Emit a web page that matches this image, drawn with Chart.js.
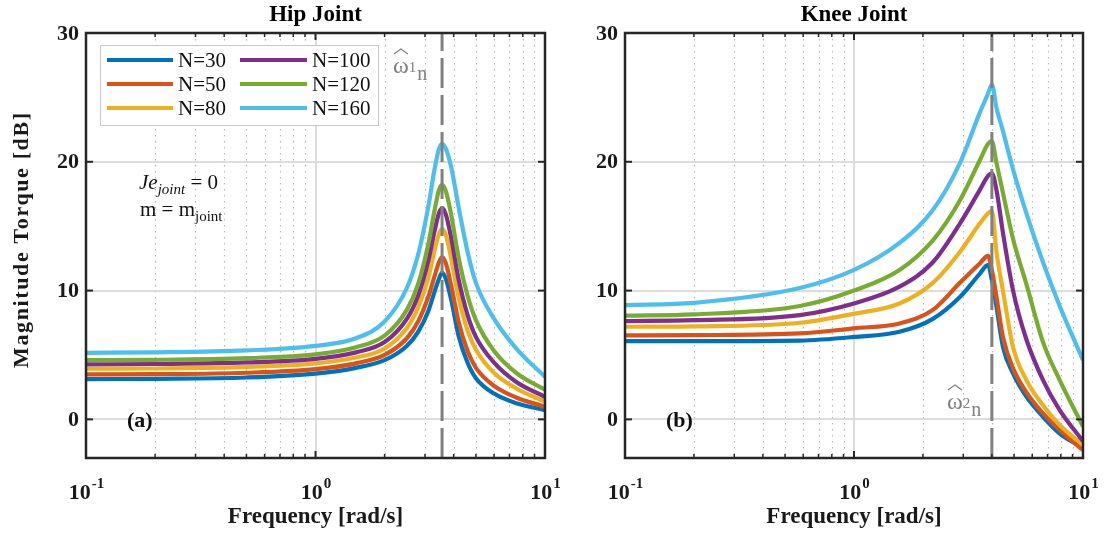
<!DOCTYPE html>
<html><head><meta charset="utf-8">
<script src="https://cdn.jsdelivr.net/npm/chart.js@4.4.0/dist/chart.umd.min.js"></script>
<style>
html,body{margin:0;padding:0;background:#fff;overflow:hidden}
#wrap{position:relative;width:1106px;height:536px;background:#fff}
canvas{position:absolute;top:0}
</style></head><body>
<div id="wrap">
<canvas id="hip" width="585" height="536" style="left:0"></canvas>
<canvas id="knee" width="553" height="536" style="left:553px"></canvas>
</div>
<script>
// ---------- data ----------
const seriesLabels = ['N=30', 'N=50', 'N=80', 'N=100', 'N=120', 'N=160'];
const seriesColors = ['#0072BD', '#D95319', '#EDB120', '#7E2F8E', '#77AC30', '#4DBEEE'];

const hipFreq = [0.1, 0.2, 0.5, 1, 1.5, 2, 2.5, 2.8, 3.1, 3.3, 3.45, 3.56, 3.7, 3.9, 4.2, 4.6, 5, 6, 7.5, 10];
const hipN30  = [3.13, 3.15, 3.25, 3.55, 4.0, 4.6, 5.7, 6.8, 8.4, 9.9, 10.9, 11.4, 10.9, 9.3, 6.5, 4.4, 3.2, 2.0, 1.25, 0.72];
const hipN50  = [3.49, 3.51, 3.62, 3.9, 4.35, 5.0, 6.3, 7.6, 9.5, 11.1, 12.2, 12.6, 12.1, 10.4, 7.6, 5.3, 4.0, 2.6, 1.7, 0.98];
const hipN80  = [3.93, 3.95, 4.07, 4.35, 4.8, 5.5, 7.1, 8.7, 11.0, 13.1, 14.4, 14.8, 14.3, 12.5, 9.5, 6.9, 5.4, 3.6, 2.4, 1.37];
const hipN100 = [4.27, 4.3, 4.42, 4.7, 5.2, 6.0, 7.8, 9.6, 12.3, 14.6, 16.0, 16.4, 15.9, 14.1, 10.9, 8.1, 6.4, 4.4, 2.9, 1.75];
const hipN120 = [4.6, 4.62, 4.75, 5.05, 5.6, 6.5, 8.5, 10.5, 13.6, 16.2, 17.8, 18.2, 17.7, 15.9, 12.6, 9.6, 7.7, 5.3, 3.6, 2.3];
const hipN160 = [5.17, 5.2, 5.35, 5.7, 6.3, 7.6, 10.2, 12.8, 16.5, 19.4, 21.0, 21.4, 21.0, 19.6, 16.5, 13.0, 10.6, 7.8, 5.5, 3.3];

const kneeFreq = [0.1, 0.2, 0.58, 1.0, 1.58, 2.21, 2.9, 3.54, 3.85, 4.0, 4.19, 4.47, 4.95, 5.66, 6.69, 7.91, 10];
const kneeN30  = [6.08, 6.08, 6.12, 6.4, 6.8, 7.8, 9.5, 11.3, 12.0, 10.8, 8.75, 5.64, 3.57, 1.76, 0.2, -1.1, -2.2];
const kneeN50  = [6.52, 6.54, 6.67, 7.07, 7.45, 8.5, 10.6, 12.1, 12.7, 11.6, 9.5, 6.4, 3.96, 2.1, 0.46, -0.83, -2.4];
const kneeN80  = [7.19, 7.22, 7.5, 8.2, 9.0, 10.6, 13.0, 15.2, 16.0, 16.2, 13.0, 10.0, 5.6, 3.05, 1.1, -0.44, -2.0];
const kneeN100 = [7.63, 7.7, 8.1, 9.0, 10.3, 12.2, 15.2, 17.8, 18.9, 19.1, 17.8, 14.5, 10.0, 6.2, 3.05, 0.72, -1.7];
const kneeN120 = [8.05, 8.15, 8.8, 10.0, 11.6, 13.9, 17.0, 20.1, 21.4, 21.6, 19.9, 17.6, 14.0, 10.5, 6.0, 3.05, -0.55];
const kneeN160 = [8.87, 9.05, 10.2, 11.6, 13.7, 16.25, 19.9, 23.8, 25.3, 26.0, 24.2, 22.4, 19.4, 16.0, 12.2, 8.8, 4.6];

const hipNatFreq = 3.56;
const kneeNatFreq = 4.0;

const yTicks = [0, 10, 20, 30];
const xMajorTicks = [0.1, 1, 10];
const xMajorExp = ['-1', '0', '1'];
const xMinorTicks = [0.2, 0.3, 0.4, 0.5, 0.6, 0.7, 0.8, 0.9, 2, 3, 4, 5, 6, 7, 8, 9];

const hipTitle = 'Hip Joint';
const kneeTitle = 'Knee Joint';
const xTitle = 'Frequency [rad/s]';
const yTitle = 'Magnitude Torque [dB]';

// ---------- helpers ----------
const SERIF = '"Liberation Serif", "Times New Roman", serif';

function makeDatasets(freq, arrays, nat) {
  const ds = arrays.map((vals, i) => ({
    label: seriesLabels[i],
    data: freq.map((f, k) => ({ x: f, y: vals[k] })),
    borderColor: seriesColors[i],
    backgroundColor: seriesColors[i],
    borderWidth: 4.2,
    pointRadius: 0,
    fill: false,
    cubicInterpolationMode: 'monotone',
    order: 10 - i
  }));
  ds.push({
    label: 'nat',
    data: [{ x: nat, y: -3 }, { x: nat, y: 30 }],
    borderColor: '#808080',
    borderWidth: 3,
    borderDash: [30, 7],
    pointRadius: 0,
    fill: false,
    order: 0
  });
  return ds;
}

function line(ctx, x1, y1, x2, y2) {
  ctx.beginPath(); ctx.moveTo(x1, y1); ctx.lineTo(x2, y2); ctx.stroke();
}

function panelPlugin(p) {
  return {
    id: 'panel_' + p.key,
    beforeDatasetsDraw(chart) {
      const { ctx, chartArea: a, scales: { x, y } } = chart;
      ctx.save();
      ctx.strokeStyle = '#b5b5b5'; ctx.lineWidth = 1.2; ctx.setLineDash([1.5, 4.5]);
      for (const v of xMinorTicks) {
        const px = Math.round(x.getPixelForValue(v)) + 0.5;
        line(ctx, px, a.top, px, a.bottom);
      }
      ctx.setLineDash([]);
      ctx.strokeStyle = '#dcdcdc'; ctx.lineWidth = 2;
      for (const v of xMajorTicks) {
        const px = Math.round(x.getPixelForValue(v));
        line(ctx, px, a.top, px, a.bottom);
      }
      for (const v of yTicks) {
        const py = Math.round(y.getPixelForValue(v));
        line(ctx, a.left, py, a.right, py);
      }
      ctx.restore();
    },
    afterDraw(chart) {
      const { ctx, chartArea: a, scales: { x, y } } = chart;
      ctx.save();
      ctx.strokeStyle = '#262626'; ctx.lineWidth = 1.5;
      for (const v of xMinorTicks) {
        const px = x.getPixelForValue(v);
        line(ctx, px, a.top, px, a.top + 4);
        line(ctx, px, a.bottom, px, a.bottom - 4);
      }
      ctx.lineWidth = 2;
      for (const v of xMajorTicks) {
        const px = x.getPixelForValue(v);
        line(ctx, px, a.top, px, a.top + 7);
        line(ctx, px, a.bottom, px, a.bottom - 7);
      }
      for (const v of yTicks) {
        const py = y.getPixelForValue(v);
        line(ctx, a.left, py, a.left + 7, py);
        line(ctx, a.right, py, a.right - 7, py);
      }
      ctx.strokeStyle = '#262626'; ctx.lineWidth = 2.5;
      ctx.strokeRect(a.left, a.top, a.right - a.left, a.bottom - a.top);

      ctx.fillStyle = '#1a1a1a';
      ctx.font = 'bold 22px ' + SERIF; ctx.textAlign = 'right'; ctx.textBaseline = 'middle';
      for (const v of yTicks) ctx.fillText(String(v), a.left - 7, y.getPixelForValue(v) + 1);
      xMajorTicks.forEach((v, i) => {
        const px = x.getPixelForValue(v);
        ctx.font = 'bold 22px ' + SERIF;
        const w1 = ctx.measureText('10').width;
        ctx.font = 'bold 15px ' + SERIF;
        const w2 = ctx.measureText(xMajorExp[i]).width;
        const sx = px - (w1 + w2) / 2;
        ctx.textAlign = 'left'; ctx.textBaseline = 'alphabetic';
        ctx.font = 'bold 22px ' + SERIF; ctx.fillText('10', sx, 499);
        ctx.font = 'bold 15px ' + SERIF; ctx.fillText(xMajorExp[i], sx + w1 + 1, 488);
      });
      ctx.font = 'bold 23px ' + SERIF; ctx.textAlign = 'center'; ctx.textBaseline = 'middle';
      ctx.fillText(xTitle, (a.left + a.right) / 2, 517);
      ctx.fillStyle = '#000';
      ctx.fillText(p.title, (a.left + a.right) / 2, 15);
      ctx.fillStyle = '#111';
      ctx.font = 'bold 22px ' + SERIF; ctx.textAlign = 'left';
      ctx.fillText(p.letter, a.left + 41, y.getPixelForValue(0) + 2);

      // natural frequency label
      const gx = p.omega.x, gy = p.omega.y;
      ctx.fillStyle = '#808080'; ctx.textBaseline = 'alphabetic'; ctx.textAlign = 'left';
      ctx.font = '24px ' + SERIF;
      const wo = ctx.measureText('\u03C9').width;
      ctx.fillText('\u03C9', gx, gy);
      ctx.strokeStyle = '#808080'; ctx.lineWidth = 1.2; ctx.setLineDash([]);
      const cx = gx + wo / 2, hy = gy - 24;
      ctx.beginPath(); ctx.moveTo(cx - 7, hy + 5); ctx.lineTo(cx, hy); ctx.lineTo(cx + 7, hy + 5); ctx.stroke();
      ctx.font = '15px ' + SERIF;
      ctx.fillText(p.omega.idx, gx + wo, gy - 1);
      const wi = ctx.measureText(p.omega.idx).width;
      ctx.font = '20px ' + SERIF;
      ctx.fillText('n', gx + wo + wi + 1, gy + 7);

      if (p.key === 'hip') {
        ctx.save();
        ctx.fillStyle = '#1a1a1a';
        ctx.translate(22, 241);
        ctx.rotate(-Math.PI / 2);
        ctx.font = 'bold 22px ' + SERIF;
        ctx.letterSpacing = '0px';
        const tw = ctx.measureText(yTitle).width;
        const ls = Math.max(0, (255 - tw) / (yTitle.length - 1));
        ctx.letterSpacing = ls.toFixed(2) + 'px';
        ctx.textAlign = 'left'; ctx.textBaseline = 'middle';
        ctx.fillText(yTitle, -127, 0);
        ctx.restore();

        const lx = 100, ly = 45, lw = 278, lh = 80;
        ctx.fillStyle = '#fff';
        ctx.fillRect(lx, ly, lw, lh);
        ctx.strokeStyle = '#c8c8c8'; ctx.lineWidth = 1;
        ctx.strokeRect(lx + 0.5, ly + 0.5, lw, lh);
        const rows = [60, 84, 108];
        const cols = [{ l1: 107, l2: 173, t: 178 }, { l1: 240, l2: 307, t: 312 }];
        ctx.font = '21px ' + SERIF; ctx.textAlign = 'left'; ctx.textBaseline = 'middle';
        seriesLabels.forEach((lab, i) => {
          const c = cols[Math.floor(i / 3)], r = rows[i % 3];
          ctx.strokeStyle = seriesColors[i]; ctx.lineWidth = 4;
          line(ctx, c.l1, r, c.l2, r);
          ctx.fillStyle = '#111';
          ctx.fillText(lab, c.t, r + 1);
        });

        ctx.fillStyle = '#111'; ctx.textBaseline = 'alphabetic';
        let tx = 139;
        ctx.font = 'italic 21px ' + SERIF; ctx.fillText('Je', tx, 189); tx += ctx.measureText('Je').width;
        ctx.font = 'italic 15px ' + SERIF; ctx.fillText('joint', tx, 194); tx += ctx.measureText('joint').width;
        ctx.font = '21px ' + SERIF; ctx.fillText(' = 0', tx, 189);
        tx = 140;
        ctx.font = '21px ' + SERIF; ctx.fillText('m = m', tx, 216); tx += ctx.measureText('m = m').width;
        ctx.font = '15px ' + SERIF; ctx.fillText('joint', tx, 221);
      }
      ctx.restore();
    }
  };
}

function makeChart(id, freq, arrays, nat, p, yWidth, padRight) {
  new Chart(document.getElementById(id), {
    type: 'line',
    data: { datasets: makeDatasets(freq, arrays, nat) },
    options: {
      responsive: false,
      devicePixelRatio: 1,
      animation: false,
      layout: { padding: { top: 33, right: padRight, left: 0, bottom: 0 } },
      plugins: { legend: { display: false }, tooltip: { enabled: false }, title: { display: false } },
      scales: {
        x: {
          type: 'logarithmic', min: 0.1, max: 10,
          ticks: { display: false }, grid: { display: false }, border: { display: false },
          afterFit(s) { s.height = 78; }
        },
        y: {
          type: 'linear', min: -3, max: 30,
          ticks: { display: false }, grid: { display: false }, border: { display: false },
          afterFit(s) { s.width = yWidth; }
        }
      }
    },
    plugins: [panelPlugin(p)]
  });
}

makeChart('hip', hipFreq, [hipN30, hipN50, hipN80, hipN100, hipN120, hipN160], hipNatFreq,
  { key: 'hip', title: hipTitle, letter: '(a)', omega: { x: 393, y: 73, idx: '1' } }, 86, 40);
makeChart('knee', kneeFreq, [kneeN30, kneeN50, kneeN80, kneeN100, kneeN120, kneeN160], kneeNatFreq,
  { key: 'knee', title: kneeTitle, letter: '(b)', omega: { x: 947 - 553, y: 409, idx: '2' } }, 72, 23);
</script>
</body></html>
